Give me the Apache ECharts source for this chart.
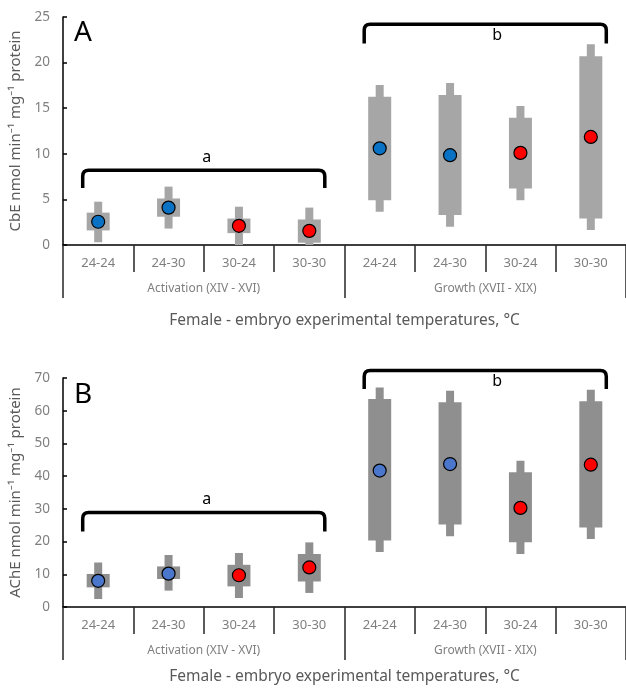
<!DOCTYPE html>
<html>
<head>
<meta charset="utf-8">
<script src="https://cdn.jsdelivr.net/npm/echarts@6/dist/echarts.min.js"></script>
<style>
html,body{margin:0;padding:0;background:#fff;}
#chart{width:626px;height:689px;}
</style>
</head>
<body>
<div id="chart"></div>
<script>
// ---- Data ----
var categories = ['24-24', '24-30', '30-24', '30-30', '24-24', '24-30', '30-24', '30-30'];
var groups = ['Activation (XIV - XVI)', 'Growth (XVII - XIX)'];
var xTitle = 'Female - embryo experimental temperatures, °C';

// Panel A: CbE
var cbeMin  = [0.3, 1.8, 0.0, 0.0, 3.65, 2.0, 4.9, 1.65];
var cbeQ1   = [1.6, 3.1, 1.3, 0.25, 4.9, 3.3, 6.2, 2.9];
var cbeQ3   = [3.55, 5.1, 2.9, 2.8, 16.25, 16.45, 13.95, 20.7];
var cbeMax  = [4.75, 6.4, 4.2, 4.1, 17.55, 17.75, 15.25, 22.0];
var cbeMean = [2.55, 4.1, 2.1, 1.55, 10.6, 9.85, 10.1, 11.85];
var cbeBracketTop = [8.2, 24.2];
var cbeBracketBottom = [6.25, 22.1];
var cbeAxis = {min: 0, max: 25, interval: 5};

// Panel B: AChE
var acheMin  = [2.45, 5.0, 2.75, 4.3, 16.8, 21.6, 16.2, 20.8];
var acheQ1   = [6.0, 8.55, 6.3, 7.8, 20.3, 25.2, 19.8, 24.3];
var acheQ3   = [10.1, 12.4, 12.9, 16.2, 63.6, 62.6, 41.2, 62.9];
var acheMax  = [13.6, 15.9, 16.5, 19.75, 67.1, 66.1, 44.7, 66.4];
var acheMean = [8.0, 10.2, 9.7, 12.1, 41.7, 43.7, 30.3, 43.5];
var acheBracketTop = [28.9, 72.3];
var acheBracketBottom = [23.1, 66.6];
var acheAxis = {min: 0, max: 70, interval: 10};

var bracketLetters = ['a', 'b'];
var groupRanges = [[0, 3], [4, 7]];

// ---- Build ----
var FONT = '"Noto Sans", "Open Sans", sans-serif';
var chart = echarts.init(document.getElementById('chart'));

function boxRender(color) {
  return function (params, api) {
    var x = api.value(0);
    var pMin = api.coord([x, api.value(1)]);
    var pQ1 = api.coord([x, api.value(2)]);
    var pQ3 = api.coord([x, api.value(3)]);
    var pMax = api.coord([x, api.value(4)]);
    return {
      type: 'group',
      children: [
        {type: 'rect', shape: {x: pMin[0] - 4, y: pMax[1], width: 8, height: pMin[1] - pMax[1]}, style: {fill: color}},
        {type: 'rect', shape: {x: pQ1[0] - 11.5, y: pQ3[1], width: 23, height: pQ1[1] - pQ3[1]}, style: {fill: color}}
      ]
    };
  };
}

function bracketRender(params, api) {
  var x0 = api.value(0), x1 = api.value(1), top = api.value(2), bot = api.value(3);
  var a = api.coord([x0, top]), b = api.coord([x1, top]);
  var c = api.coord([x0, bot]), d = api.coord([x1, bot]);
  var r = 6;
  var path = 'M' + c[0] + ' ' + c[1] + ' L' + a[0] + ' ' + (a[1] + r) +
    ' Q' + a[0] + ' ' + a[1] + ' ' + (a[0] + r) + ' ' + a[1] +
    ' L' + (b[0] - r) + ' ' + b[1] +
    ' Q' + b[0] + ' ' + b[1] + ' ' + b[0] + ' ' + (b[1] + r) +
    ' L' + d[0] + ' ' + d[1];
  var below = params.dataIndex === 1;
  return {
    type: 'group',
    children: [
      {type: 'path', shape: {pathData: path}, style: {stroke: '#000', lineWidth: 3.5, fill: null, lineJoin: 'round', lineCap: 'butt'}},
      {type: 'text', x: (a[0] + b[0]) / 2 + (below ? 12 : 3), y: below ? a[1] + 11 : a[1] - 13,
        style: {text: bracketLetters[params.dataIndex], fill: '#000', font: '16px ' + FONT, align: 'center', verticalAlign: 'middle'}}
    ]
  };
}

function panel(idx, top, height, yName, axisCfg, mn, q1, q3, mx, mean, bTop, bBot, boxColor, blue, titleGap) {
  var inset = 0.22;
  var xAxes = [
    {
      type: 'category', gridIndex: idx, data: categories, position: 'bottom', offset: 0,
      axisLine: {onZero: false, lineStyle: {color: '#000', width: 1.5}},
      axisTick: {show: true, length: 27, interval: 0, lineStyle: {color: '#262626', width: 1.5}},
      axisLabel: {margin: 12, color: '#7f7f7f', fontSize: 13, fontFamily: FONT, interval: 0},
      splitLine: {show: false}
    },
    {
      type: 'category', gridIndex: idx, data: groups, position: 'bottom', offset: 0,
      axisLine: {show: false, onZero: false},
      axisTick: {show: true, length: 53, interval: 0, lineStyle: {color: '#262626', width: 1.5}},
      axisLabel: {margin: 38, color: '#7f7f7f', fontSize: 12, fontFamily: FONT, interval: 0},
      name: xTitle, nameLocation: 'middle', nameGap: titleGap,
      nameTextStyle: {color: '#595959', fontSize: 15.5, fontFamily: FONT},
      splitLine: {show: false}
    },
    {type: 'value', gridIndex: idx, min: -0.5, max: 7.5, show: false, splitLine: {show: false}}
  ];
  var yAxis = {
    type: 'value', gridIndex: idx, min: axisCfg.min, max: axisCfg.max, interval: axisCfg.interval,
    axisLine: {show: true, onZero: false, lineStyle: {color: '#000', width: 1.5}},
    axisTick: {show: true, inside: true, length: 4, lineStyle: {color: '#000', width: 1.5}},
    axisLabel: {color: '#7f7f7f', fontSize: 13.5, fontFamily: FONT, margin: 13},
    splitLine: {show: false},
    name: yName, nameLocation: 'middle', nameGap: 31,
    nameTextStyle: {color: '#595959', fontSize: 15, fontFamily: FONT}
  };
  var base = idx * 3;
  var boxData = categories.map(function (c, i) { return [i, mn[i], q1[i], q3[i], mx[i]]; });
  var dotData = categories.map(function (c, i) {
    return {value: [i, mean[i]], itemStyle: {color: c.indexOf('24') === 0 ? blue : '#ff0000'}};
  });
  var bracketData = groupRanges.map(function (g, k) {
    return [g[0] - inset, g[1] + inset, bTop[k], bBot[k]];
  });
  var series = [
    {type: 'custom', xAxisIndex: base + 2, yAxisIndex: idx, renderItem: boxRender(boxColor), data: boxData,
      encode: {x: 0, y: [1, 2, 3, 4]}, z: 2, silent: true},
    {type: 'scatter', xAxisIndex: base + 2, yAxisIndex: idx, data: dotData, symbolSize: 13,
      itemStyle: {borderColor: '#000', borderWidth: 1.2, opacity: 1}, z: 3, silent: true},
    {type: 'custom', xAxisIndex: base + 2, yAxisIndex: idx, renderItem: bracketRender, data: bracketData,
      encode: {x: [0, 1], y: [2, 3]}, clip: false, z: 4, silent: true}
  ];
  return {
    grid: {left: 63, top: top, height: height, width: 568},
    xAxes: xAxes, yAxis: yAxis, series: series
  };
}

var pA = panel(0, 17, 228, 'CbE nmol min\u207B\u00B9 mg\u207B\u00B9 protein', cbeAxis,
  cbeMin, cbeQ1, cbeQ3, cbeMax, cbeMean, cbeBracketTop, cbeBracketBottom, '#a6a6a6', '#0a72c4', 68);
var pB = panel(1, 378, 229, 'AChE nmol min\u207B\u00B9 mg\u207B\u00B9 protein', acheAxis,
  acheMin, acheQ1, acheQ3, acheMax, acheMean, acheBracketTop, acheBracketBottom, '#8f8f8f', '#4a76cc', 62);

var option = {
  animation: false,
  backgroundColor: '#fff',
  grid: [pA.grid, pB.grid],
  xAxis: pA.xAxes.concat(pB.xAxes),
  yAxis: [pA.yAxis, pB.yAxis],
  series: pA.series.concat(pB.series),
  graphic: [
    {type: 'text', left: 74, top: 19, style: {text: 'A', fill: '#000', font: '28px ' + FONT}},
    {type: 'text', left: 74, top: 381, style: {text: 'B', fill: '#000', font: '28px ' + FONT}}
  ]
};
chart.setOption(option);
</script>
</body>
</html>
